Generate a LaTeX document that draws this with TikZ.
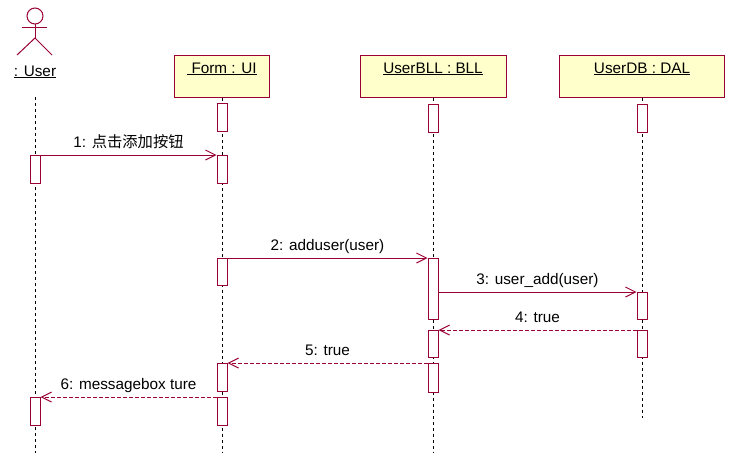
\documentclass[tikz,border=0pt]{standalone}
\usepackage{fontspec}
\setmainfont{Liberation Sans}
\newfontfamily\cjk{Noto Sans CJK SC}
\usetikzlibrary{arrows.meta}
\definecolor{rosered}{RGB}{153,0,51}
\definecolor{roseyellow}{RGB}{255,255,204}

\begin{document}
\begin{tikzpicture}[x=1pt, y=-1pt, >={Straight Barb[length=10pt,width=10pt]},
  every node/.style={font=\fontsize{15.3}{18}\selectfont},
  object/.style={draw=rosered, fill=roseyellow, line width=1pt, anchor=north,
    minimum height=42pt, inner ysep=6pt, text height=11pt, text depth=18pt},
  lifeline/.style={draw=black, line width=1pt, dash pattern=on 3pt off 3pt},
  bar/.style={draw=rosered, fill=white, line width=1pt, anchor=north,
    minimum width=10pt, inner sep=0pt},
  msg/.style={->, draw=rosered, line width=1pt},
  reply/.style={msg, dash pattern=on 4pt off 2pt},
  msglabel/.style={midway, anchor=base, yshift=8pt}]
  \useasboundingbox (0,0) rectangle (741,464);

  % Actor
  \begin{scope}[draw=rosered, line width=1pt]
    \draw (35,16) circle (8pt);
    \draw (35,24) -- (35,38);
    \draw (22,27) -- (47,27);
    \draw (17,55) -- (35,38) -- (52,55);
  \end{scope}
  \node[anchor=base] (user) at (35,76) {\underline{: User}};

  % Objects
  \node[object, minimum width=95pt] (form) at (222,55) {\underline{\ Form : UI}};
  \node[object, minimum width=146pt] (bll) at (433,55) {\underline{UserBLL : BLL}};
  \node[object, minimum width=165pt] (db) at (642,55) {\underline{UserDB : DAL}};

  % Lifelines
  \coordinate (usertop) at (35,97);
  \coordinate (userend) at (35,453);
  \coordinate (formend) at (222,453);
  \coordinate (bllend) at (433,453);
  \coordinate (dbend) at (642,418);
  \draw[lifeline] (usertop) -- (userend);
  \draw[lifeline] (form.south) -- (formend);
  \draw[lifeline] (bll.south) -- (bllend);
  \draw[lifeline] (db.south) -- (dbend);

  % Activations
  \node[bar, minimum height=28pt] (u1) at (35,155) {};
  \node[bar, minimum height=28pt] (u2) at (35,397) {};
  \node[bar, minimum height=28pt] (f1) at (222,103) {};
  \node[bar, minimum height=28pt] (f2) at (222,155) {};
  \node[bar, minimum height=27pt] (f3) at (222,258) {};
  \node[bar, minimum height=28pt] (f4) at (222,363) {};
  \node[bar, minimum height=28pt] (f5) at (222,397) {};
  \node[bar, minimum height=28pt] (b1) at (433,104) {};
  \node[bar, minimum height=61pt] (b2) at (433,258) {};
  \node[bar, minimum height=27pt] (b3) at (433,330) {};
  \node[bar, minimum height=29pt] (b4) at (433,363) {};
  \node[bar, minimum height=28pt] (d1) at (642,104) {};
  \node[bar, minimum height=27pt] (d2) at (642,292) {};
  \node[bar, minimum height=27pt] (d3) at (642,330) {};

  % Messages
  \draw[msg] (u1.north east) -- (f2.north west)
    node[msglabel] {1: {\cjk 点击添加按钮}};
  \draw[msg] (f3.north east) -- (b2.north west)
    node[msglabel] {2: adduser(user)};
  \draw[msg] (b2.east |- d2.north) -- (d2.north west)
    node[msglabel] {3: user\_add(user)};
  \draw[reply] (d3.north west) -- (b3.north east)
    node[msglabel] {4: true};
  \draw[reply] (b4.north west) -- (f4.north east)
    node[msglabel] {5: true};
  \draw[reply] (f5.north west) -- (u2.north east)
    node[msglabel] {6: messagebox ture};
\end{tikzpicture}
\end{document}
